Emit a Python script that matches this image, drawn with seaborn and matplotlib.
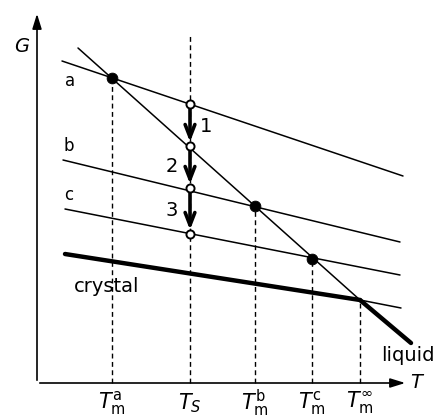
import matplotlib
matplotlib.use("Agg")
import matplotlib.pyplot as plt
import seaborn as sns
import pandas as pd

# Free-energy lines G(T): start/end points (T, G)
line_names = ["a", "b", "c", "liquid", "crystal"]
line_T0 = [25, 26, 28, 41, 28]
line_G0 = [322, 223, 174, 335, 129]
line_T1 = [366, 363, 363, 323, 323]
line_G1 = [207, 141, 108, 83, 83]
line_width = [1.1, 1.1, 1.1, 1.1, 3.2]

# extensions beyond the crystal/liquid crossing
liquid_ext_T = [323, 374]
liquid_ext_G = [83, 40]
crystal_ext_T = [323, 364]
crystal_ext_G = [83, 75]

# characteristic temperatures
tick_T = [75, 153, 218, 275, 323]
tick_labels = [r"$T_\mathrm{m}^\mathrm{a}$", r"$T_S$", r"$T_\mathrm{m}^\mathrm{b}$",
               r"$T_\mathrm{m}^\mathrm{c}$", r"$T_\mathrm{m}^\infty$"]

# melting points (filled) and states at T_S (open)
melt_T = [75, 218, 275]
melt_G = [305, 177, 124]
ts_T = [153, 153, 153, 153]
ts_G = [279, 237, 195, 149]
step_labels = ["1", "2", "3"]

sns.set_style("white")
plt.rcParams["font.family"] = ["DejaVu Sans"]

fig = plt.figure(figsize=(4.35, 4.19), dpi=100)
ax = fig.add_axes([0, 0, 1, 1])
ax.set_xlim(-37, 398)
ax.set_ylim(-36, 383)
ax.axis("off")

# vertical dashed guides
for i, t in enumerate(tick_T):
    top = 350 if i == 1 else (melt_G[melt_T.index(t)] if t in melt_T else liquid_ext_G[0])
    ax.plot([t, t], [0, top], ls=(0, (3.5, 2.5)), color="black", lw=1.0, zorder=1)

for name, t0, g0, t1, g1, lw in zip(line_names, line_T0, line_G0, line_T1, line_G1, line_width):
    df = pd.DataFrame({"T": [t0, t1], "G": [g0, g1]})
    sns.lineplot(data=df, x="T", y="G", color="black", lw=lw, ax=ax, sort=False, zorder=2)

sns.lineplot(x=liquid_ext_T, y=liquid_ext_G, color="black", lw=3.2, ax=ax, zorder=2)
sns.lineplot(x=crystal_ext_T, y=crystal_ext_G, color="black", lw=1.1, ax=ax, zorder=2)

# axes arrows
ax.annotate("", xy=(0, 372), xytext=(0, 0),
            arrowprops=dict(arrowstyle="-|>,head_length=0.9,head_width=0.28", color="black", lw=1.2))
ax.annotate("", xy=(371, 0), xytext=(0, 0),
            arrowprops=dict(arrowstyle="-|>,head_length=0.9,head_width=0.28", color="black", lw=1.2))

# cooling steps at T_S
for k in range(3):
    ax.annotate("", xy=(ts_T[k + 1], ts_G[k + 1] + 4), xytext=(ts_T[k], ts_G[k] - 3),
                arrowprops=dict(arrowstyle="->,head_length=0.9,head_width=0.35",
                                color="black", lw=2.6, shrinkA=0, shrinkB=0), zorder=3)

sns.scatterplot(x=melt_T, y=melt_G, s=60, color="black", edgecolor="black", ax=ax, zorder=4)
sns.scatterplot(x=ts_T, y=ts_G, s=34, color="white", edgecolor="black", linewidth=1.4, ax=ax, zorder=5)

txt = dict(color="black", ha="center", va="center")
ax.text(-15, 336, "G", fontsize=14, style="italic", **txt)
ax.text(379, 1, "T", fontsize=14, style="italic", **txt)
for s, t, g in zip(["a", "b", "c"], [33, 32, 32], [302, 237, 188]):
    ax.text(t, g, s, fontsize=12, **txt)
ax.text(70, 97, "crystal", fontsize=14, **txt)
ax.text(371, 28, "liquid", fontsize=14, **txt)
for s, t, g in zip(step_labels, [169, 135, 135], [256, 217, 173]):
    ax.text(t, g, s, fontsize=14, **txt)

for t, lab in zip(tick_T, tick_labels):
    ax.text(t, -20, lab, fontsize=15, **txt)

fig.savefig("out.png", dpi=100)
